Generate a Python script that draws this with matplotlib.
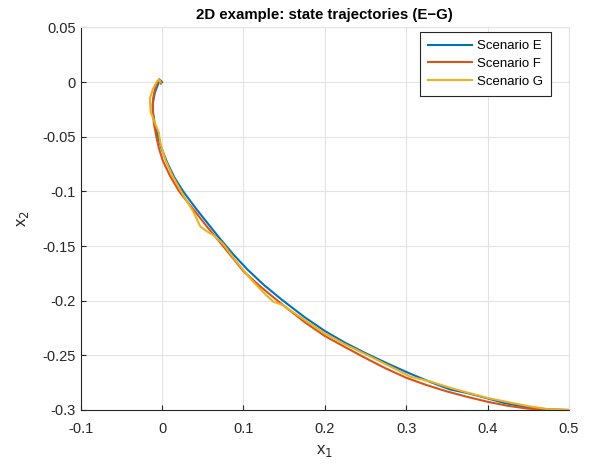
import matplotlib
matplotlib.use("Agg")
import matplotlib.pyplot as plt

plt.rcParams['font.family'] = ['Liberation Sans', 'DejaVu Sans']

# Scenario E
xe = [0.5, 0.475, 0.447, 0.42, 0.40, 0.375, 0.354, 0.33, 0.305, 0.28, 0.25, 0.225, 0.20,
      0.175, 0.147, 0.125, 0.105, 0.088, 0.072, 0.057, 0.042, 0.026, 0.015, 0.006, -0.001,
      -0.005, -0.009, -0.011, -0.0115, -0.009, -0.005, -0.003, -0.001, 0.0]
ye = [-0.300, -0.2995, -0.2973, -0.2935, -0.2894, -0.2845, -0.2812, -0.2745, -0.2668, -0.2585,
      -0.2480, -0.2385, -0.2277, -0.2150, -0.1990, -0.1855, -0.1715, -0.1580, -0.1440, -0.1300,
      -0.1160, -0.1000, -0.0870, -0.0730, -0.0600, -0.0500, -0.0380, -0.0280, -0.0200, -0.0100,
      -0.0020, 0.0020, 0.0010, 0.0]

# Scenario F
xf = [0.5, 0.475, 0.45, 0.425, 0.40, 0.375, 0.35, 0.325, 0.30, 0.275, 0.25, 0.225, 0.20,
      0.175, 0.142, 0.12, 0.10, 0.075, 0.055, 0.037, 0.021, 0.010, 0.001, -0.004, -0.007,
      -0.010, -0.0115, -0.011, -0.0087, -0.006, -0.0033, -0.0016, -0.0016]
yf = [-0.300, -0.2998, -0.2988, -0.2962, -0.2925, -0.2880, -0.2830, -0.2772, -0.2705, -0.2620,
      -0.2525, -0.2425, -0.2323, -0.2195, -0.2000, -0.1865, -0.1730, -0.1500, -0.1320, -0.1150,
      -0.1000, -0.0860, -0.0720, -0.0600, -0.0500, -0.0380, -0.0260, -0.0150, -0.0064, -0.0005,
      0.0027, 0.0005, -0.0013]

# Scenario G
xg = [0.5, 0.475, 0.45, 0.425, 0.40, 0.375, 0.354, 0.33, 0.305, 0.28, 0.25, 0.225, 0.20,
      0.17, 0.147, 0.137, 0.128, 0.11, 0.09, 0.075, 0.063, 0.054, 0.047, 0.038, 0.025, 0.013,
      0.004, -0.002, -0.004, -0.009, -0.014, -0.015, -0.011, -0.006, -0.003, -0.002]
yg = [-0.300, -0.2993, -0.2965, -0.2928, -0.2890, -0.2840, -0.2797, -0.2740, -0.2695, -0.2600,
      -0.2490, -0.2400, -0.2300, -0.2150, -0.2035, -0.2010, -0.1950, -0.1810, -0.1630, -0.1480,
      -0.1400, -0.1360, -0.1320, -0.1180, -0.1020, -0.0860, -0.0710, -0.0560, -0.0460, -0.0370,
      -0.0270, -0.0150, -0.0060, 0.0010, 0.0020, 0.0]

xticks = [-0.1, 0, 0.1, 0.2, 0.3, 0.4, 0.5]
xticklabels = ['-0.1', '0', '0.1', '0.2', '0.3', '0.4', '0.5']
yticks = [-0.3, -0.25, -0.2, -0.15, -0.1, -0.05, 0, 0.05]
yticklabels = ['-0.3', '-0.25', '-0.2', '-0.15', '-0.1', '-0.05', '0', '0.05']

dark = '#262626'
gridc = '#e3e3e3'

fig = plt.figure(figsize=(5.93, 4.66), dpi=100)
ax = fig.add_axes([0.136, 0.1202, 0.8235, 0.8208])

ax.plot(xe, ye, color='#0072BD', lw=1.5, label='Scenario E')
ax.plot(xf, yf, color='#D95319', lw=1.5, label='Scenario F')
ax.plot(xg, yg, color='#EDB120', lw=1.5, label='Scenario G')

ax.set_xlim(-0.1, 0.5)
ax.set_ylim(-0.3, 0.05)
ax.set_xticks(xticks)
ax.set_xticklabels(xticklabels)
ax.set_yticks(yticks)
ax.set_yticklabels(yticklabels)
ax.grid(True, color=gridc, lw=0.8)
ax.set_axisbelow(True)
ax.tick_params(direction='in', labelsize=10.5, colors=dark, length=3.5, width=0.8)
ax.tick_params(axis='x', pad=9)
for side in ['left', 'bottom']:
    ax.spines[side].set_color(dark)
    ax.spines[side].set_linewidth(0.8)
for side in ['top', 'right']:
    ax.spines[side].set_color(gridc)
    ax.spines[side].set_linewidth(0.8)

ax.set_xlabel('x$_1$', fontsize=12, color=dark, labelpad=5)
ax.set_ylabel('x$_2$', fontsize=12, color=dark, labelpad=8)
ax.set_title('2D example: state trajectories (E\u2212G)', fontsize=10.8, fontweight='bold')

leg = ax.legend(loc='upper right', bbox_to_anchor=(0.963, 0.988), borderaxespad=0,
                fontsize=9.5, fancybox=False, framealpha=1, edgecolor=dark,
                handlelength=3.3, handletextpad=0.4, borderpad=0.6, labelspacing=0.42)
leg.get_frame().set_linewidth(0.8)

fig.savefig('out.png', dpi=100)
